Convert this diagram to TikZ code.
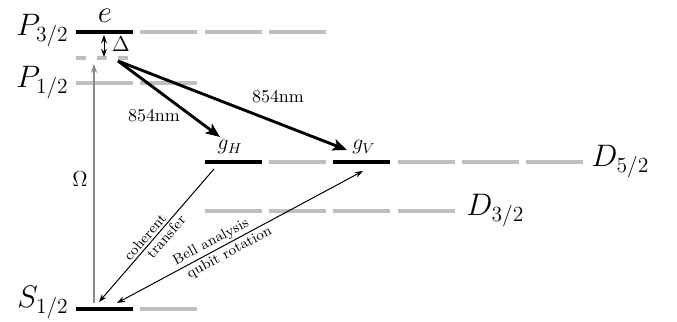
\documentclass[tikz,border=0pt]{standalone}
\usetikzlibrary{arrows.meta}
\begin{document}
\begin{tikzpicture}[x=0.556pt,y=-0.556pt,
  lvlblack/.style={line width=1.7pt,black},
  lvlgray/.style={line width=1.7pt,black!25},
  statelabel/.style={font=\fontsize{18.6}{22}\selectfont,inner sep=0pt},
  smalllabel/.style={font=\large,inner sep=0pt},
  laser/.style={line width=1.6pt,-{Stealth[length=8pt,width=6.5pt,inset=2pt]}},
  thinarrow/.style={line width=0.55pt,-{Stealth[length=4.5pt,width=3.2pt]}},
  boththin/.style={line width=0.55pt,{Stealth[length=4.5pt,width=3.2pt]}-{Stealth[length=4.5pt,width=3.2pt]}},
  drive/.style={line width=0.8pt,black!45,-{Stealth[length=5pt,width=3.5pt]}},
  armlabel/.style={font=\footnotesize,inner sep=1.2pt,sloped}]
\useasboundingbox (0,0) rectangle (677,322);
\newcommand\levelseg[3]{\draw[#1] ({76+64.3*#2},#3) -- ++(57,0);}
% P3/2
\levelseg{lvlblack}{0}{32}
\foreach \i in {1,2,3} {\levelseg{lvlgray}{\i}{32}}
% virtual level
\draw[lvlgray,dash pattern=on 5.6pt off 6pt] (76,58) -- (129,58);
% P1/2
\foreach \i in {0,1} {\levelseg{lvlgray}{\i}{83}}
% D5/2
\levelseg{lvlblack}{2}{162}
\levelseg{lvlgray}{3}{162}
\levelseg{lvlblack}{4}{162}
\foreach \i in {5,6,7} {\levelseg{lvlgray}{\i}{162}}
% D3/2
\foreach \i in {2,3,4,5} {\levelseg{lvlgray}{\i}{211}}
% S1/2
\levelseg{lvlblack}{0}{309}
\levelseg{lvlgray}{1}{309}

% labels
\node[statelabel,anchor=base east] (P32) at (69,36) {$P_{3/2}$};
\node[statelabel,anchor=base east] (P12) at (69,88) {$P_{1/2}$};
\node[statelabel,anchor=base east] (S12) at (69,308) {$S_{1/2}$};
\node[statelabel,anchor=base west] (D52) at (591,167) {$D_{5/2}$};
\node[statelabel,anchor=base west] (D32) at (466,216) {$D_{3/2}$};
\node[statelabel,anchor=base] (e) at (105,23) {$e$};
\node[smalllabel,anchor=base] (Delta) at (121,52) {$\Delta$};
\node[smalllabel,anchor=base] (gH) at (230,150) {$g_H$};
\node[smalllabel,anchor=base] (gV) at (364,150) {$g_V$};
\node[smalllabel,anchor=base] (Omega) at (80,187) {$\Omega$};
\node[anchor=base,inner sep=0pt] (l1) at (154,122) {854nm};
\node[anchor=base,inner sep=0pt] (l2) at (278,103) {854nm};

% connector endpoints
\coordinate (dtop) at (104,35);
\coordinate (dbot) at (104,57);
\coordinate (virt) at (118,61);
\coordinate (gHtip) at (220,137);
\coordinate (gVtip) at (347,150);
\coordinate (Sbase) at (94,303);
\coordinate (Otip) at (94,64);
\coordinate (gHfoot) at (214,169);
\coordinate (Scoh) at (99,302);
\coordinate (Sbell) at (117,303);
\coordinate (gVfoot) at (363,171);

\draw[boththin] (dtop) -- (dbot);
\draw[drive] (Sbase) -- (Otip);
\draw[laser] (virt) -- (gHtip);
\draw[laser] (virt) -- (gVtip);
\draw[thinarrow] (gHfoot) --
  node[armlabel,pos=0.55,above] {coherent}
  node[armlabel,pos=0.47,below] {transfer} (Scoh);
\draw[boththin] (Sbell) --
  node[armlabel,pos=0.40,above] {Bell analysis}
  node[armlabel,pos=0.44,below] {qubit rotation} (gVfoot);
\end{tikzpicture}
\end{document}
